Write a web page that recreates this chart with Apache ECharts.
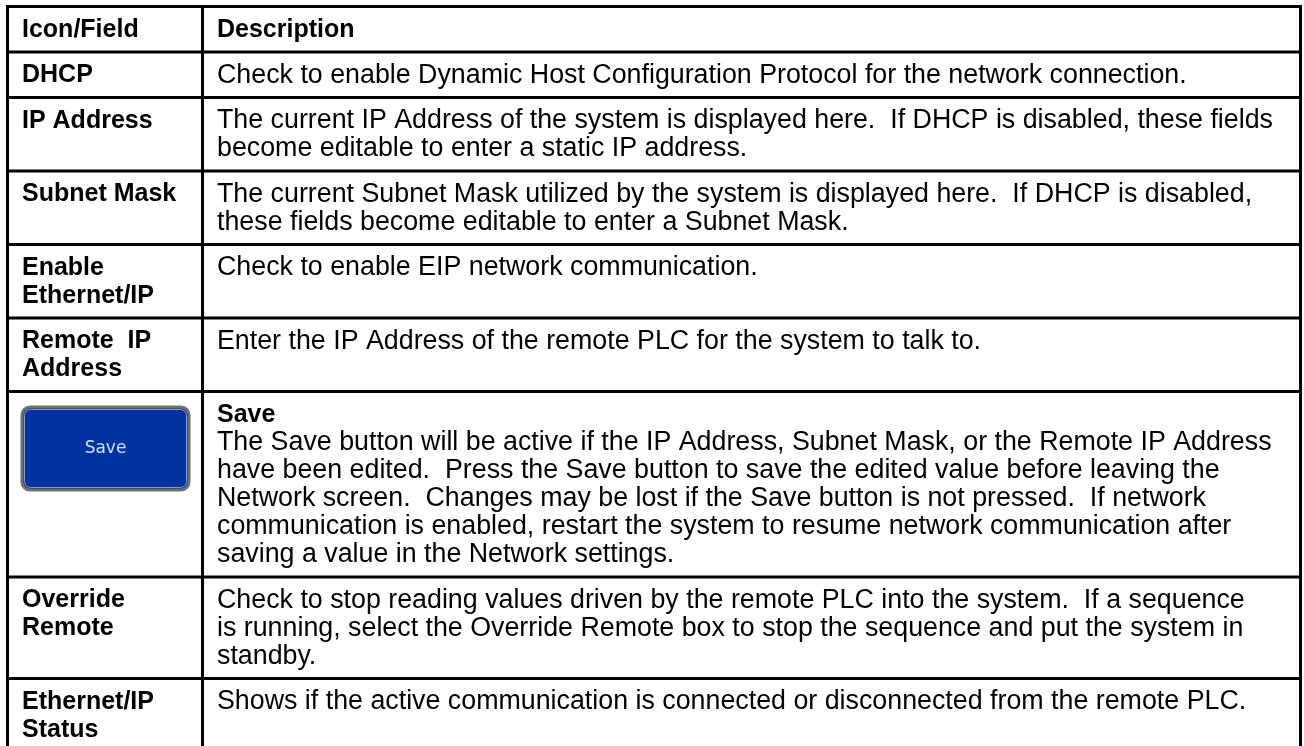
<!DOCTYPE html>
<html>
<head>
<meta charset="utf-8">
<script src="https://cdn.jsdelivr.net/npm/echarts@6/dist/echarts.min.js"></script>
<style>
  html, body { margin: 0; padding: 0; background: #ffffff; }
  #chart { width: 1304px; height: 746px; }
</style>
</head>
<body>
<div id="chart"></div>
<script>
// ---- table content ----
const headerLabels = ['Icon/Field', 'Description'];

const fieldLabels = [
  ['DHCP'],
  ['IP Address'],
  ['Subnet Mask'],
  ['Enable', 'Ethernet/IP'],
  ['Remote  IP', 'Address'],
  [],
  ['Override', 'Remote'],
  ['Ethernet/IP', 'Status']
];

const descTitles = ['', '', '', '', '', 'Save', '', ''];

const descLines = [
  ['Check to enable Dynamic Host Configuration Protocol for the network connection.'],
  ['The current IP Address of the system is displayed here.  If DHCP is disabled, these fields',
   'become editable to enter a static IP address.'],
  ['The current Subnet Mask utilized by the system is displayed here.  If DHCP is disabled,',
   'these fields become editable to enter a Subnet Mask.'],
  ['Check to enable EIP network communication.'],
  ['Enter the IP Address of the remote PLC for the system to talk to.'],
  ['The Save button will be active if the IP Address, Subnet Mask, or the Remote IP Address',
   'have been edited.  Press the Save button to save the edited value before leaving the',
   'Network screen.  Changes may be lost if the Save button is not pressed.  If network',
   'communication is enabled, restart the system to resume network communication after',
   'saving a value in the Network settings.'],
  ['Check to stop reading values driven by the remote PLC into the system.  If a sequence',
   'is running, select the Override Remote box to stop the sequence and put the system in',
   'standby.'],
  ['Shows if the active communication is connected or disconnected from the remote PLC.']
];

const buttonLabels = ['', '', '', '', '', 'Save', '', ''];

// ---- layout (styles) ----
const W = 1304, H = 746;
const LINE = 28, PAD = 17.5;
const TABLE_TOP = 6.5;
const COL_X = [7.5, 202.5, 1300.5];
const TEXT_X = [22, 217];
const FIRST_LINE_CENTER = 23.5;
const BODY_FONT = '"Liberation Sans", Arial, Helvetica, sans-serif';

// row line counts derived from content
const rowLineCounts = [1].concat(fieldLabels.map((f, i) =>
  Math.max(f.length, descLines[i].length + (descTitles[i] ? 1 : 0), 1)));
const rowHeights = rowLineCounts.map(n => PAD + n * LINE);
const rowTops = [];
rowHeights.reduce((acc, h) => { rowTops.push(acc); return acc + h; }, TABLE_TOP);

const rowData = rowLineCounts.map((n, i) => [i, n]);

function renderItem(params, api) {
  const i = api.value(0);
  const top = rowTops[i];
  const bottom = top + rowHeights[i];
  const c = (x, y) => api.coord([x, y]);
  const children = [];

  // top border of the row
  const a = c(COL_X[0] - 1.5, top), b = c(COL_X[2] + 1.5, top);
  children.push({ type: 'line', shape: { x1: a[0], y1: a[1], x2: b[0], y2: b[1] },
    style: { stroke: '#000', lineWidth: 3 } });
  // vertical borders
  COL_X.forEach(x => {
    const p1 = c(x, top - 1.5), p2 = c(x, bottom + 1.5);
    children.push({ type: 'line', shape: { x1: p1[0], y1: p1[1], x2: p2[0], y2: p2[1] },
      style: { stroke: '#000', lineWidth: 3 } });
  });

  const textTop = top + FIRST_LINE_CENTER - LINE / 2;

  if (i === 0) {
    headerLabels.forEach((t, k) => {
      const p = c(TEXT_X[k], textTop);
      children.push({ type: 'text', style: { text: t, x: p[0], y: p[1],
        fontFamily: BODY_FONT, fontSize: 25, fontWeight: 'bold', fill: '#000',
        lineHeight: LINE, verticalAlign: 'top', align: 'left' } });
    });
    return { type: 'group', children };
  }

  const r = i - 1;
  if (fieldLabels[r].length) {
    const p = c(TEXT_X[0], textTop);
    children.push({ type: 'text', style: { text: fieldLabels[r].join('\n'), x: p[0], y: p[1],
      fontFamily: BODY_FONT, fontSize: 25, fontWeight: 'bold', fill: '#000',
      lineHeight: LINE, verticalAlign: 'top', align: 'left' } });
  }

  let dTop = textTop;
  if (descTitles[r]) {
    const p = c(TEXT_X[1], textTop);
    children.push({ type: 'text', style: { text: descTitles[r], x: p[0], y: p[1],
      fontFamily: BODY_FONT, fontSize: 25, fontWeight: 'bold', fill: '#000',
      lineHeight: LINE, verticalAlign: 'top', align: 'left' } });
    dTop += LINE;
  }
  const pd = c(TEXT_X[1], dTop);
  children.push({ type: 'text', style: { text: descLines[r].join('\n'), x: pd[0], y: pd[1],
    fontFamily: BODY_FONT, fontSize: 26.8, fill: '#000',
    lineHeight: LINE, verticalAlign: 'top', align: 'left' } });

  if (buttonLabels[r]) {
    const b1 = c(22, top + 15.5), b2 = c(189, top + 98.5);
    children.push({ type: 'rect',
      shape: { x: b1[0], y: b1[1], width: b2[0] - b1[0], height: b2[1] - b1[1], r: 8 },
      style: { fill: '#0033a2', stroke: '#6f6f6f', lineWidth: 3 } });
    children.push({ type: 'rect',
      shape: { x: b1[0] + 2.5, y: b1[1] + 2.5, width: b2[0] - b1[0] - 5, height: b2[1] - b1[1] - 5, r: 6 },
      style: { fill: 'none', stroke: '#9a9a9a', lineWidth: 1 } });
    children.push({ type: 'text', style: { text: buttonLabels[r],
      x: (b1[0] + b2[0]) / 2, y: (b1[1] + b2[1]) / 2,
      fontFamily: '"DejaVu Sans", Verdana, sans-serif', fontSize: 17, fill: '#d4e0f4',
      align: 'center', verticalAlign: 'middle' } });
  }
  return { type: 'group', children };
}

const chart = echarts.init(document.getElementById('chart'), null, { renderer: 'canvas' });
chart.setOption({
  backgroundColor: '#ffffff',
  animation: false,
  grid: { left: 0, right: 0, top: 0, bottom: 0 },
  xAxis: { type: 'value', min: 0, max: W, show: false },
  yAxis: { type: 'value', min: 0, max: H, inverse: true, show: false },
  series: [{
    type: 'custom',
    renderItem: renderItem,
    data: rowData,
    encode: { x: -1, y: -1 },
    clip: true,
    silent: true
  }]
});
</script>
</body>
</html>
